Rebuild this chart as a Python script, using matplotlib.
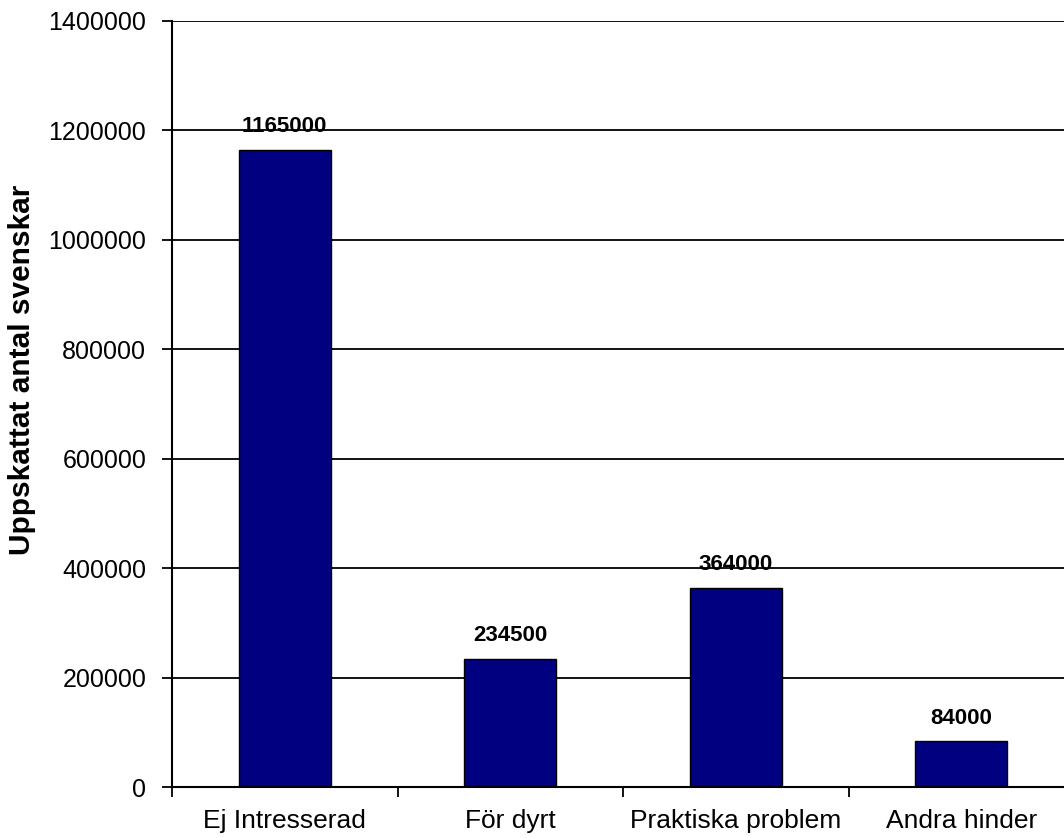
import numpy as np
import matplotlib
matplotlib.use("Agg")
import matplotlib.pyplot as plt

plt.rcParams['font.family'] = ['Liberation Sans', 'DejaVu Sans']

kategorier = ["Ej Intresserad", "För dyrt", "Praktiska problem", "Andra hinder"]
antal = [1165000, 234500, 364000, 84000]
yticks = [0, 200000, 400000, 600000, 800000, 1000000, 1200000, 1400000]

fig = plt.figure(figsize=(10.64, 8.38), dpi=100)
ax = fig.add_axes([172 / 1064, 51 / 838, (1074 - 172) / 1064, (787 - 21) / 838])

x = np.arange(len(kategorier))
bars = ax.bar(x, antal, width=0.41, color="#000080", edgecolor="black", linewidth=1.0, zorder=3)

# datavärden över staplarna
for xi, v in zip(x, antal):
    ax.annotate(str(v), (xi, v), xytext=(0, 9), textcoords="offset points",
                ha="center", va="bottom", fontsize=16, fontweight="bold", zorder=4)

ax.set_xlim(-0.5, len(kategorier) - 0.5)
ax.set_ylim(0, 1400000)
ax.set_yticks(yticks)
ax.set_yticklabels([str(t) for t in yticks], fontsize=18)
ax.yaxis.grid(True, color="black", linewidth=1.3, zorder=0)

ax.set_xticks(x)
ax.set_xticklabels(kategorier, fontsize=19)
ax.set_xticks(np.arange(len(kategorier) + 1) - 0.5, minor=True)
ax.tick_params(axis="x", which="major", length=0, pad=16)
ax.tick_params(axis="x", which="minor", length=7.5, width=1.3, direction="out")
ax.tick_params(axis="y", length=7.5, width=1.3, direction="out", pad=11)

ax.set_ylabel("Uppskattat antal svenskar", fontsize=21.5, fontweight="bold", va="center")
ax.yaxis.set_label_coords(-0.166, 0.544)

for s in ["top", "right"]:
    ax.spines[s].set_visible(False)
for s in ["left", "bottom"]:
    ax.spines[s].set_linewidth(1.5)
    ax.spines[s].set_color("black")
    ax.spines[s].set_zorder(5)

fig.savefig("out.png", dpi=100)
